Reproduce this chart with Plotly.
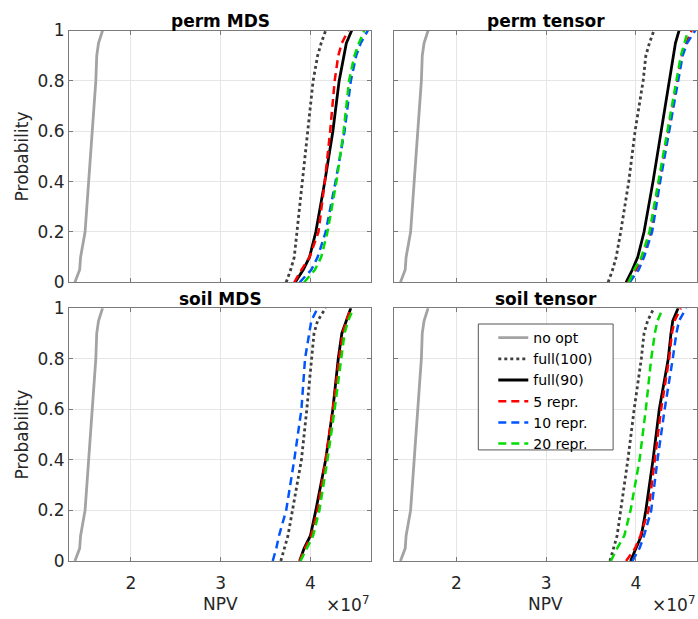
import plotly.graph_objects as go
from plotly.subplots import make_subplots

W, H = 698, 619

# probability levels at which NPV (x 1e7) values were read
prob = [0, 0.05, 0.1, 0.2, 0.4, 0.6, 0.8, 0.9, 0.95, 1.0]

series_names = ["no opt", "full(100)", "full(90)", "5 repr.", "10 repr.", "20 repr."]
panel_titles = ["perm MDS", "perm tensor", "soil MDS", "soil tensor"]

no_opt = [1.377, 1.43, 1.44, 1.49, 1.53, 1.57, 1.61, 1.62, 1.64, 1.685]

# perm MDS
pm_full100 = [3.73, 3.78, 3.82, 3.85, 3.91, 3.97, 4.03, 4.08, 4.12, 4.17]
pm_full90 = [3.83, 3.92, 3.99, 4.06, 4.16, 4.25, 4.32, 4.37, 4.40, 4.46]
pm_r5 = [3.82, 3.90, 3.99, 4.09, 4.16, 4.22, 4.27, 4.31, 4.35, 4.42]
pm_r10 = [3.88, 4.01, 4.08, 4.17, 4.28, 4.38, 4.45, 4.51, 4.56, 4.64]
pm_r20 = [3.93, 4.05, 4.12, 4.19, 4.29, 4.37, 4.43, 4.49, 4.54, 4.60]

# perm tensor
pt_full100 = [3.69, 3.74, 3.78, 3.83, 3.92, 3.99, 4.08, 4.11, 4.15, 4.20]
pt_full90 = [3.89, 3.96, 4.02, 4.09, 4.19, 4.28, 4.37, 4.41, 4.44, 4.48]
pt_r5 = [3.91, 4.00, 4.07, 4.17, 4.26, 4.36, 4.46, 4.51, 4.56, 4.62]
pt_r10 = [3.93, 4.03, 4.09, 4.18, 4.27, 4.37, 4.47, 4.52, 4.57, 4.66]
pt_r20 = [3.92, 3.98, 4.06, 4.15, 4.25, 4.35, 4.45, 4.50, 4.54, 4.58]

# soil MDS
sm_full100 = [3.67, 3.71, 3.75, 3.80, 3.90, 3.96, 4.01, 4.04, 4.08, 4.17]
sm_full90 = [3.88, 3.93, 4.00, 4.06, 4.17, 4.25, 4.31, 4.35, 4.40, 4.45]
sm_r5 = [3.88, 3.94, 4.01, 4.08, 4.17, 4.25, 4.32, 4.36, 4.40, 4.45]
sm_r10 = [3.58, 3.62, 3.65, 3.73, 3.82, 3.90, 3.94, 3.99, 4.01, 4.08]
sm_r20 = [3.89, 3.96, 4.03, 4.10, 4.19, 4.27, 4.34, 4.38, 4.42, 4.48]

# soil tensor
st_full100 = [3.71, 3.75, 3.79, 3.83, 3.91, 3.98, 4.06, 4.09, 4.13, 4.20]
st_full90 = [3.94, 4.00, 4.06, 4.11, 4.19, 4.26, 4.36, 4.39, 4.41, 4.47]
st_r5 = [3.89, 3.99, 4.05, 4.14, 4.21, 4.28, 4.37, 4.40, 4.43, 4.50]
st_r10 = [3.96, 4.04, 4.09, 4.17, 4.24, 4.32, 4.41, 4.45, 4.48, 4.56]
st_r20 = [3.72, 3.79, 3.87, 3.94, 4.04, 4.11, 4.17, 4.21, 4.24, 4.30]

panels = [
    [no_opt, pm_full100, pm_full90, pm_r5, pm_r10, pm_r20],
    [no_opt, pt_full100, pt_full90, pt_r5, pt_r10, pt_r20],
    [no_opt, sm_full100, sm_full90, sm_r5, sm_r10, sm_r20],
    [no_opt, st_full100, st_full90, st_r5, st_r10, st_r20],
]

styles = [
    dict(color="#a3a3a3", width=2.8, dash="solid"),
    dict(color="#404040", width=2.8, dash="dot"),
    dict(color="#000000", width=2.8, dash="solid"),
    dict(color="#ff0000", width=2.5, dash="8px,5px"),
    dict(color="#0055ff", width=2.5, dash="8px,5px"),
    dict(color="#00dd00", width=2.5, dash="8px,5px"),
]

xtick_vals = [2, 3, 4]
xtick_text = ["2", "3", "4"]
ytick_vals = [0, 0.2, 0.4, 0.6, 0.8, 1]
ytick_text = ["0", "0.2", "0.4", "0.6", "0.8", "1"]
x_range = [1.31, 4.68]

FONT = "DejaVu Sans, Verdana, sans-serif"

def px_x(p):
    return p / W

def px_y(p):
    # vertical placement with compensation for observed render scaling
    q = (p - 7.3) / 0.976
    return 1 - q / H

fig = make_subplots(rows=2, cols=2)

for k, data in enumerate(panels):
    r, c = k // 2 + 1, k % 2 + 1
    for j, vals in enumerate(data):
        fig.add_trace(go.Scatter(
            x=vals, y=prob, mode="lines", name=series_names[j],
            line=styles[j], showlegend=(k == 3), legendgroup=series_names[j],
        ), row=r, col=c)

xdom = [[px_x(69), px_x(372)], [px_x(395), px_x(698)]]
ydom = [[px_y(282), px_y(28)], [px_y(563), px_y(308)]]

axis_common = dict(
    showline=True, linecolor="#7a7a7a", linewidth=1, mirror="ticks",
    ticks="inside", ticklen=4, tickcolor="#7a7a7a",
    showgrid=True, gridcolor="#e6e6e6", gridwidth=1, zeroline=False,
    tickfont=dict(family=FONT, size=17, color="#262626"),
)

for k in range(4):
    r, c = k // 2, k % 2
    xa = "xaxis" if k == 0 else f"xaxis{k+1}"
    ya = "yaxis" if k == 0 else f"yaxis{k+1}"
    fig.layout[xa].update(domain=xdom[c], range=x_range, tickvals=xtick_vals,
                          ticktext=xtick_text, showticklabels=(r == 1),
                          ticklabelstandoff=7, **axis_common)
    fig.layout[ya].update(domain=ydom[r], range=[0, 1], tickvals=ytick_vals,
                          ticktext=ytick_text, showticklabels=(c == 0), **axis_common)

annotations = []
title_bottom = [30, 311]
for k, t in enumerate(panel_titles):
    r, c = k // 2, k % 2
    cx = (xdom[c][0] + xdom[c][1]) / 2
    annotations.append(dict(text=f"<b>{t}</b>", x=cx, y=px_y(title_bottom[r]), xref="paper", yref="paper",
                            showarrow=False, font=dict(family=FONT, size=17, color="#000000"),
                            xanchor="center", yanchor="bottom"))
for r in range(2):
    cy = (ydom[r][0] + ydom[r][1]) / 2
    annotations.append(dict(text="Probability", x=px_x(22), y=cy, xref="paper", yref="paper",
                            showarrow=False, textangle=-90,
                            font=dict(family=FONT, size=17, color="#262626"),
                            xanchor="center", yanchor="middle"))
for c in range(2):
    cx = (xdom[c][0] + xdom[c][1]) / 2
    annotations.append(dict(text="NPV", x=cx, y=px_y(606), xref="paper", yref="paper",
                            showarrow=False, font=dict(family=FONT, size=17, color="#262626"),
                            xanchor="center", yanchor="middle"))
    annotations.append(dict(text="×10<sup>7</sup>", x=xdom[c][1], y=px_y(606), xref="paper", yref="paper",
                            showarrow=False, font=dict(family=FONT, size=17, color="#262626"),
                            xanchor="right", yanchor="middle"))

# legend frame drawn as a box (MATLAB-style legend size)
shapes = [dict(type="rect", xref="paper", yref="paper",
               x0=px_x(479), x1=px_x(614), y0=px_y(451), y1=px_y(324),
               line=dict(color="#555555", width=1), fillcolor="white", layer="above")]

fig.update_layout(
    width=W, height=H,
    margin=dict(l=0, r=0, t=0, b=0),
    paper_bgcolor="white", plot_bgcolor="white",
    annotations=annotations,
    shapes=shapes,
    legend=dict(x=px_x(494), y=px_y(322), xanchor="left", yanchor="top",
                bgcolor="rgba(0,0,0,0)", borderwidth=0,
                font=dict(family=FONT, size=14, color="#000000"),
                tracegroupgap=0),
)

fig.write_html("out.html")
